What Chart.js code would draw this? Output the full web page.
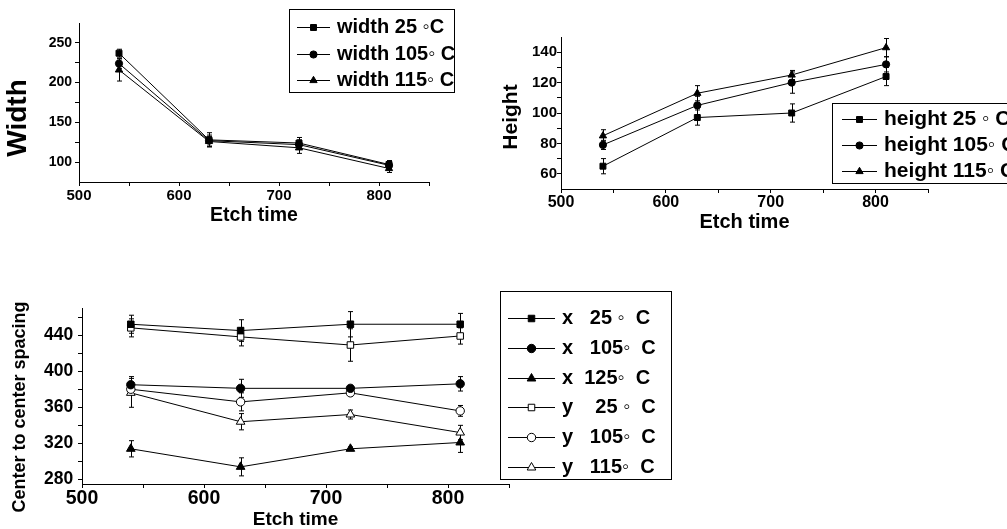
<!DOCTYPE html>
<html>
<head>
<meta charset="utf-8">
<script src="https://cdn.jsdelivr.net/npm/chart.js@4.4.0/dist/chart.umd.min.js"></script>
<style>
  html, body { margin: 0; padding: 0; background: #fff; }
  body { width: 1007px; height: 529px; position: relative; overflow: hidden; }
  .panel { position: absolute; overflow: hidden; }
</style>
</head>
<body>
<div class="panel" style="left:0;top:0;width:470px;height:240px"><canvas id="chartWidth" width="470" height="240"></canvas></div>
<div class="panel" style="left:480px;top:0;width:527px;height:228px"><canvas id="chartHeight" width="527" height="240"></canvas></div>
<div class="panel" style="left:0;top:280px;width:690px;height:249px"><canvas id="chartSpacing" width="690" height="249"></canvas></div>
<script>
// etch time (x) for every series
const etchTime = [540, 630, 720, 810];
const xTicks = [500, 550, 600, 650, 700, 750, 800, 850];
const xLabels = [500, 600, 700, 800];

// width
const width25 = [237, 128, 124, 97];
const width25Err = [5, 9, 7, 5];
const width105 = [224, 127, 122, 96];
const width105Err = [6, 7, 6, 5];
const width115 = [216, 126, 118, 92];
const width115Err = [14, 6, 7, 5];
const widthTicks = [100, 125, 150, 175, 200, 225, 250];
const widthLabels = [100, 150, 200, 250];

// height
const height25 = [65, 97, 100, 124];
const height25Err = [5, 5, 6, 6];
const height105 = [79, 105, 120, 132];
const height105Err = [3, 6, 7, 5];
const height115 = [85, 113, 125, 143];
const height115Err = [4, 5, 3, 6];
const heightTicks = [60, 70, 80, 90, 100, 110, 120, 130, 140];
const heightLabels = [60, 80, 100, 120, 140];

// center to center spacing
const x25 = [452, 445, 452, 452];
const x25Err = [10, 12, 14, 12];
const x105 = [385, 381, 381, 386];
const x105Err = [9, 10, 3, 8];
const x125 = [314, 294, 314, 321];
const x125Err = [9, 10, 2, 11];
const y25 = [448, 438, 429, 439];
const y25Err = [10, 10, 18, 9];
const y105 = [380, 366, 376, 356];
const y105Err = [6, 10, 3, 6];
const y115 = [376, 344, 352, 332];
const y115Err = [16, 9, 5, 8];
const spacingTicks = [280, 300, 320, 340, 360, 380, 400, 420, 440, 460];
const spacingLabels = [280, 320, 360, 400, 440];

const FONT = '"Liberation Sans", Arial, Helvetica, sans-serif';
Chart.defaults.font.family = FONT;
Chart.defaults.color = '#000';

const series = (label, vals, errs, style, radius, filled) => ({
  label,
  data: etchTime.map((t, i) => ({ x: t, y: vals[i] })),
  errors: errs,
  borderColor: '#000',
  borderWidth: 1,
  backgroundColor: filled ? '#000' : '#fff',
  pointStyle: style,
  pointRadius: radius,
  pointBorderWidth: 1,
  pointBorderColor: '#000',
  pointBackgroundColor: filled ? '#000' : '#fff',
  tension: 0,
  fill: false,
});

// vertical error bars with small caps
const errorBars = {
  id: 'errorBars',
  beforeDatasetsDraw(chart) {
    const { ctx, scales: { x, y } } = chart;
    ctx.save();
    ctx.strokeStyle = '#000';
    ctx.lineWidth = 1;
    chart.data.datasets.forEach((ds) => {
      ds.data.forEach((p, i) => {
        const px = Math.round(x.getPixelForValue(p.x)) + 0.5;
        const top = y.getPixelForValue(p.y + ds.errors[i]);
        const bot = y.getPixelForValue(p.y - ds.errors[i]);
        ctx.beginPath();
        ctx.moveTo(px, top); ctx.lineTo(px, bot);
        ctx.moveTo(px - 2.5, top); ctx.lineTo(px + 2.5, top);
        ctx.moveTo(px - 2.5, bot); ctx.lineTo(px + 2.5, bot);
        ctx.stroke();
      });
    });
    ctx.restore();
  },
};

// boxed legend: line + marker + text
const boxLegend = {
  id: 'boxLegend',
  afterDraw(chart, args, o) {
    const { ctx } = chart;
    ctx.save();
    ctx.strokeStyle = '#000';
    ctx.lineWidth = 1;
    ctx.strokeRect(Math.round(o.left) + 0.5, Math.round(o.top) + 0.5, o.width, o.height);
    ctx.font = `bold ${o.size}px ${FONT}`;
    ctx.textBaseline = 'middle';
    ctx.textAlign = 'left';
    chart.data.datasets.forEach((ds, i) => {
      const yy = Math.round(o.top + o.first + i * o.gap) + 0.5;
      ctx.strokeStyle = '#000';
      ctx.beginPath();
      ctx.moveTo(o.lineFrom, yy);
      ctx.lineTo(o.lineTo, yy);
      ctx.stroke();
      ctx.fillStyle = ds.pointBackgroundColor;
      Chart.helpers.drawPoint(ctx, {
        pointStyle: ds.pointStyle, radius: ds.pointRadius, borderWidth: 1, rotation: 0,
      }, (o.lineFrom + o.lineTo) / 2, yy);
      ctx.fillStyle = '#000';
      ctx.fillText(o.texts[i], o.textX, yy);
    });
    ctx.restore();
  },
};

// rotated y title
const yTitle = {
  id: 'yTitle',
  afterDraw(chart, args, o) {
    const { ctx } = chart;
    ctx.save();
    ctx.translate(o.x, o.y);
    ctx.rotate(-Math.PI / 2);
    ctx.font = `bold ${o.size}px ${FONT}`;
    ctx.fillStyle = '#000';
    ctx.textAlign = 'center';
    ctx.textBaseline = 'middle';
    ctx.fillText(o.text, 0, 0);
    ctx.restore();
  },
};

const makeChart = (id, datasets, p) => new Chart(document.getElementById(id), {
  type: 'line',
  data: { datasets },
  plugins: [errorBars, boxLegend, yTitle],
  options: {
    responsive: false,
    animation: false,
    events: [],
    layout: { padding: { left: 0, top: p.top, right: p.right, bottom: 0 } },
    plugins: {
      legend: { display: false },
      tooltip: { enabled: false },
      boxLegend: p.legend,
      yTitle: p.yTitle,
    },
    scales: {
      x: {
        type: 'linear',
        min: 500,
        max: 850,
        afterBuildTicks: (s) => { s.ticks = xTicks.map((v) => ({ value: v })); },
        afterFit: (s) => { s.height = p.xHeight; },
        ticks: {
          autoSkip: false,
          maxRotation: 0,
          padding: p.xPad,
          font: { size: p.xFont, weight: 'bold', lineHeight: 1 },
          callback: (v) => (xLabels.includes(v) ? String(v) : ''),
        },
        grid: { drawOnChartArea: false, drawTicks: true, tickLength: 4, tickColor: '#000' },
        border: { display: true, color: '#000', width: 1 },
        title: {
          display: true,
          text: 'Etch time',
          font: { size: p.titleFont, weight: 'bold', lineHeight: 1 },
          padding: { top: 0, bottom: p.titlePad },
        },
      },
      y: {
        type: 'linear',
        min: p.yMin,
        max: p.yMax,
        afterBuildTicks: (s) => { s.ticks = p.yTicks.map((v) => ({ value: v })); },
        afterFit: (s) => { s.width = p.yWidth; },
        ticks: {
          autoSkip: false,
          padding: p.yPad,
          font: { size: p.yFont, weight: 'bold', lineHeight: 1 },
          callback: (v) => (p.yLabels.includes(v) ? String(v) : ''),
        },
        grid: { drawOnChartArea: false, drawTicks: true, tickLength: 4, tickColor: '#000' },
        border: { display: true, color: '#000', width: 1 },
      },
    },
  },
});

makeChart('chartWidth', [
  series('width 25', width25, width25Err, 'rect', 4.2, true),
  series('width 105', width105, width105Err, 'circle', 3.6, true),
  series('width 115', width115, width115Err, 'triangle', 4.2, true),
], {
  top: 23, right: 41, xHeight: 58, yWidth: 79,
  yMin: 75, yMax: 275, yTicks: widthTicks, yLabels: widthLabels,
  xFont: 15, xPad: 2.5, yFont: 14, yPad: 3, titleFont: 19.5, titlePad: 14.25,
  yTitle: { text: 'Width', x: 18.5, y: 118, size: 28 },
  legend: {
    left: 289, top: 9, width: 165, height: 83, first: 18, gap: 26.5,
    lineFrom: 297, lineTo: 330, textX: 337, size: 20,
    texts: ['width 25 \u25E6C', 'width 105\u25E6 C', 'width 115\u25E6 C'],
  },
});

makeChart('chartHeight', [
  series('height 25', height25, height25Err, 'rect', 4.2, true),
  series('height 105', height105, height105Err, 'circle', 3.6, true),
  series('height 115', height115, height115Err, 'triangle', 4.2, true),
], {
  top: 37, right: 79, xHeight: 51, yWidth: 81,
  yMin: 50, yMax: 150, yTicks: heightTicks, yLabels: heightLabels,
  xFont: 16, xPad: 1.7, yFont: 15, yPad: 0, titleFont: 20, titlePad: 8,
  yTitle: { text: 'Height', x: 31.5, y: 117, size: 21 },
  legend: {
    left: 352, top: 103, width: 300, height: 80, first: 15.5, gap: 26,
    lineFrom: 362, lineTo: 397, textX: 404, size: 21,
    texts: ['height 25 \u25E6 C', 'height 105\u25E6 C', 'height 115\u25E6 C'],
  },
});

makeChart('chartSpacing', [
  series('x 25', x25, x25Err, 'rect', 4.6, true),
  series('x 105', x105, x105Err, 'circle', 4.2, true),
  series('x 125', x125, x125Err, 'triangle', 5, true),
  series('y 25', y25, y25Err, 'rect', 4.6, false),
  series('y 105', y105, y105Err, 'circle', 4.2, false),
  series('y 115', y115, y115Err, 'triangle', 5, false),
], {
  top: 28, right: 181, xHeight: 45, yWidth: 82,
  yMin: 275, yMax: 470, yTicks: spacingTicks, yLabels: spacingLabels,
  xFont: 19.5, xPad: 0.5, yFont: 17.5, yPad: 4.7, titleFont: 19, titlePad: 0,
  yTitle: { text: 'Center to center spacing', x: 20, y: 127, size: 18 },
  legend: {
    left: 500, top: 11, width: 171, height: 188, first: 27.3, gap: 29.7,
    lineFrom: 508, lineTo: 555, textX: 562, size: 20,
    texts: ['x   25 \u25E6  C', 'x   105\u25E6  C', 'x  125\u25E6  C', 'y    25 \u25E6  C', 'y   105\u25E6  C', 'y   115\u25E6  C'],
  },
});
</script>
</body>
</html>
